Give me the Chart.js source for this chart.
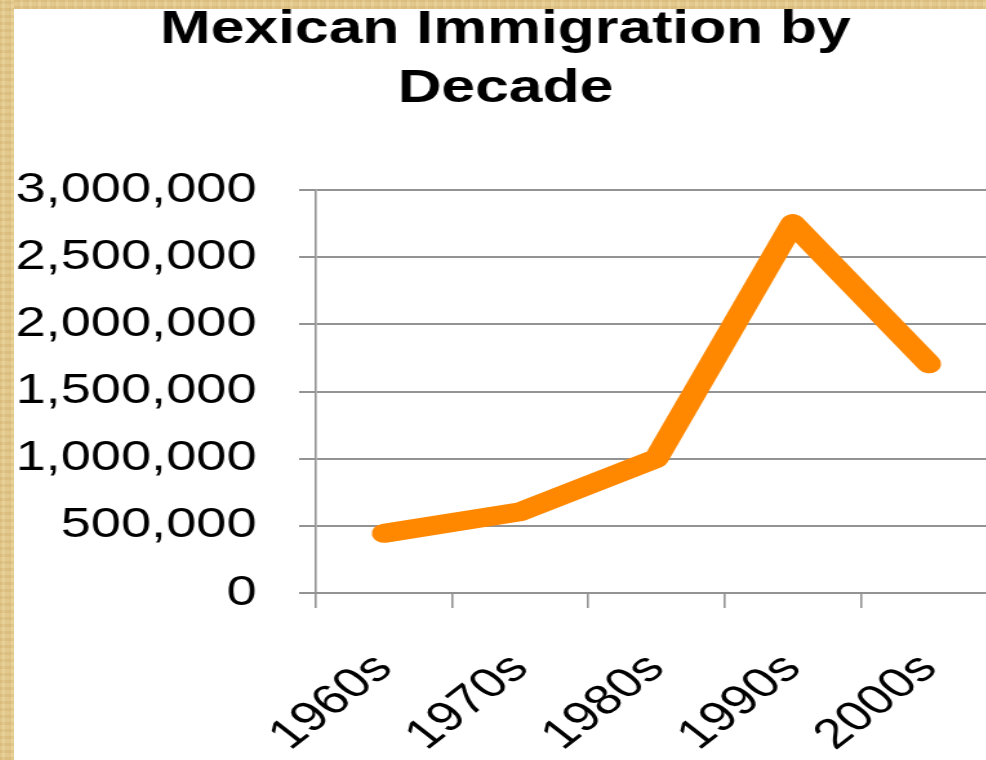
<!DOCTYPE html>
<html>
<head>
<meta charset="utf-8">
<script src="https://cdn.jsdelivr.net/npm/chart.js@4.4.1/dist/chart.umd.min.js"></script>
<style>
  html, body { margin:0; padding:0; width:986px; height:760px; overflow:hidden; background:#fff; }
  /* chart is drawn narrow, then stretched sideways like the original slide image */
  #wrap { position:absolute; left:14px; top:-10px; width:762px; height:770px; transform:scaleX(1.29); transform-origin:0 0; }
  .parch {
    position:absolute; z-index:2;
    background:
      repeating-linear-gradient(90deg, rgba(170,130,60,.10) 0 2px, rgba(255,240,200,.08) 2px 5px, rgba(160,120,50,.06) 5px 9px),
      repeating-linear-gradient(0deg, rgba(180,140,70,.10) 0 3px, rgba(255,245,210,.10) 3px 7px),
      #e3c98c;
  }
  #ptop { left:0; top:0; width:986px; height:9px; }
  #pleft { left:0; top:0; width:14px; height:760px; }
</style>
</head>
<body>
<div id="ptop" class="parch"></div>
<div id="pleft" class="parch"></div>
<div id="wrap"><canvas id="chart" width="762" height="770"></canvas></div>
<script>
// data
const decades = ['1960s', '1970s', '1980s', '1990s', '2000s'];
const immigrants = [444000, 605000, 1002000, 2750000, 1706000];
const titleLines = ['Mexican Immigration by', 'Decade'];
const yMin = 0, yMax = 3000000, yStep = 500000;

const FONT = "'Liberation Sans', Arial, sans-serif";
const GRID = '#939393';

const ctx = document.getElementById('chart').getContext('2d');
new Chart(ctx, {
  type: 'line',
  data: {
    labels: decades,
    datasets: [{
      data: immigrants,
      borderColor: '#ff8800',
      borderWidth: 19,
      borderCapStyle: 'round',
      borderJoinStyle: 'round',
      pointRadius: 0,
      tension: 0,
      fill: false
    }]
  },
  options: {
    responsive: false,
    devicePixelRatio: 1,
    animation: false,
    layout: { padding: 0 },
    plugins: {
      legend: { display: false },
      tooltip: { enabled: false },
      title: {
        display: true,
        text: titleLines,
        color: '#000',
        font: { family: FONT, size: 47, weight: 'bold', lineHeight: 59/47 },
        padding: { top: 11, bottom: 71 }
      }
    },
    scales: {
      x: {
        offset: true,
        grid: { offset: true, drawOnChartArea: false, drawTicks: true, tickLength: 15, color: GRID, lineWidth: 1.6 },
        border: { display: true, color: GRID, width: 2 },
        ticks: { autoSkip: false, minRotation: 45, maxRotation: 45, padding: 36, color: '#000', font: { family: FONT, size: 42 } },
        afterFit(s) { s.height = 167; s.paddingLeft = 0; s.paddingRight = 0; }
      },
      y: {
        min: yMin, max: yMax,
        grid: { color: GRID, lineWidth: 2, tickLength: 13 },
        border: { display: true, color: GRID, width: 1.6 },
        ticks: { stepSize: yStep, padding: 33, color: '#000', font: { family: FONT, size: 42 },
          callback: v => v.toLocaleString('en-US') },
        afterFit(s) { s.width = 234; }
      }
    }
  }
});
</script>
</body>
</html>
